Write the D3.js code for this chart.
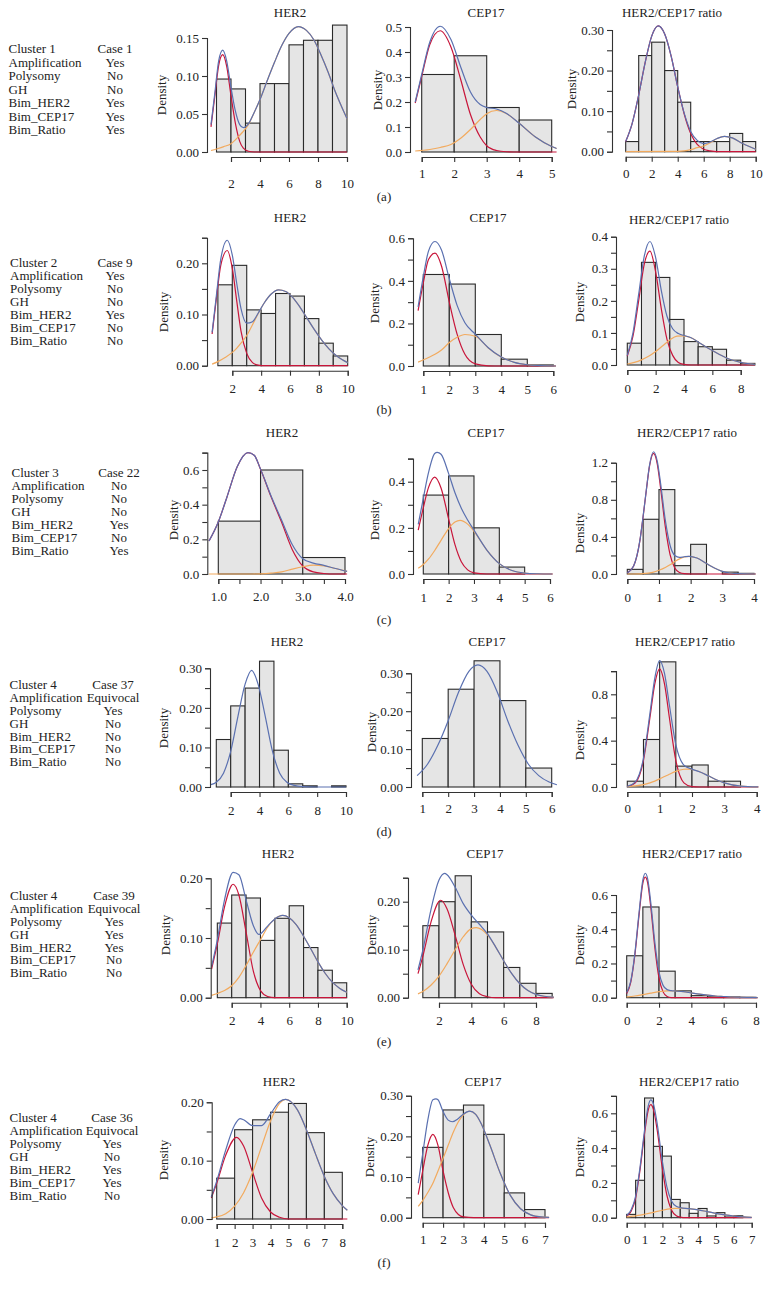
<!DOCTYPE html>
<html lang="en">
<head>
<meta charset="UTF-8">
<title>HER2 / CEP17 density histograms</title>
<script src="https://d3js.org/d3.v7.min.js"></script>
<style>
  body { margin: 0; background: #fff; }
  svg { display: block; font-family: "Liberation Serif", "DejaVu Serif", serif; }
</style>
</head>
<body>
<script>
// ---------- info tables ----------
const clusterNames = ["Cluster 1", "Cluster 2", "Cluster 3", "Cluster 4", "Cluster 4", "Cluster 4"];
const caseNames = ["Case 1", "Case 9", "Case 22", "Case 37", "Case 39", "Case 36"];
const infoNames = ["Amplification", "Polysomy", "GH", "Bim_HER2", "Bim_CEP17", "Bim_Ratio"];
const infoValues = [
  ["Yes", "No", "No", "Yes", "Yes", "Yes"],
  ["Yes", "No", "No", "Yes", "No", "No"],
  ["No", "No", "No", "Yes", "No", "Yes"],
  ["Equivocal", "Yes", "No", "No", "No", "No"],
  ["Equivocal", "Yes", "Yes", "Yes", "No", "No"],
  ["Equivocal", "Yes", "No", "Yes", "Yes", "No"]
];
const rowLetters = ["(a)", "(b)", "(c)", "(d)", "(e)", "(f)"];

// ---------- row (a) ----------
const densHer2A = [0.096, 0.083, 0.038, 0.090, 0.090, 0.141, 0.147, 0.147, 0.167];
const blueHer2A = [[0.62,0.036],[0.9,0.08],[1.15,0.12],[1.43,0.134],[1.7,0.12],[2.0,0.085],[2.3,0.054],[2.6,0.036],[2.85,0.032],[3.2,0.037],[3.6,0.052],[4.0,0.069],[4.5,0.094],[5.0,0.118],[5.5,0.14],[6.0,0.156],[6.64,0.165],[7.2,0.16],[7.7,0.148],[8.2,0.128],[8.7,0.105],[9.2,0.079],[9.6,0.061],[10.0,0.044]];
const redHer2A = [[0.62,0.033],[0.9,0.076],[1.15,0.114],[1.43,0.128],[1.7,0.113],[2.0,0.074],[2.3,0.038],[2.6,0.014],[2.85,0.005],[3.2,0.001],[3.6,0],[10.0,0]];
const orgHer2A = [[0.62,0.002],[1.0,0.004],[1.5,0.007],[2.0,0.011],[2.3,0.016],[2.6,0.022],[2.85,0.027],[3.2,0.036],[3.6,0.052],[4.0,0.069],[4.5,0.094],[5.0,0.118],[5.5,0.14],[6.0,0.156],[6.64,0.165],[7.2,0.16],[7.7,0.148],[8.2,0.128],[8.7,0.105],[9.2,0.079],[9.6,0.061],[10.0,0.044]];

const densCepA = [0.31, 0.385, 0.178, 0.128];
const blueCepA = [[0.8,0.2],[1.0,0.31],[1.25,0.44],[1.57,0.503],[1.9,0.45],[2.2,0.34],[2.5,0.24],[2.8,0.19],[3.0,0.178],[3.3,0.172],[3.6,0.155],[4.0,0.115],[4.5,0.06],[5.0,0.022],[5.15,0.014]];
const redCepA = [[0.8,0.196],[1.0,0.302],[1.25,0.43],[1.57,0.485],[1.9,0.42],[2.2,0.29],[2.5,0.15],[2.8,0.06],[3.0,0.025],[3.3,0.006],[3.6,0.001],[4.0,0],[5.15,0]];
const orgCepA = [[0.8,0.004],[1.25,0.01],[1.57,0.018],[1.9,0.03],[2.2,0.055],[2.5,0.09],[2.8,0.13],[3.0,0.153],[3.3,0.166],[3.6,0.154],[4.0,0.115],[4.5,0.06],[5.0,0.022],[5.15,0.014]];

const densRatA = [0.025, 0.237, 0.27, 0.2, 0.122, 0.025, 0.025, 0.025, 0.045, 0.025];
const blueRatA = [[0,0.025],[0.5,0.07],[1,0.14],[1.5,0.22],[2,0.285],[2.5,0.31],[3,0.29],[3.5,0.235],[4,0.16],[4.5,0.095],[5,0.05],[5.5,0.028],[6,0.02],[6.5,0.024],[7,0.032],[7.6,0.038],[8.2,0.034],[9,0.02],[10,0.006]];
const redRatA = [[0,0.025],[0.5,0.07],[1,0.14],[1.5,0.22],[2,0.285],[2.5,0.31],[3,0.29],[3.5,0.235],[4,0.16],[4.5,0.093],[5,0.045],[5.5,0.018],[6,0.006],[6.5,0.002],[7,0],[10,0]];
const orgRatA = [[0,0],[4,0.001],[4.5,0.002],[5,0.005],[5.5,0.01],[6,0.014],[6.5,0.022],[7,0.032],[7.6,0.038],[8.2,0.034],[9,0.02],[10,0.006]];

// ---------- row (b) ----------
const densHer2B = [0.158, 0.196, 0.109, 0.102, 0.141, 0.136, 0.092, 0.044, 0.019];
const blueHer2B = [[0.6,0.065],[0.9,0.138],[1.2,0.208],[1.65,0.245],[2.0,0.216],[2.3,0.162],[2.6,0.112],[3.0,0.083],[3.4,0.086],[3.8,0.103],[4.2,0.122],[4.7,0.14],[5.2,0.148],[5.7,0.145],[6.2,0.133],[6.7,0.114],[7.2,0.092],[7.7,0.07],[8.2,0.05],[8.7,0.033],[9.2,0.02],[9.6,0.012],[10,0.006]];
const redHer2B = [[0.6,0.062],[0.9,0.132],[1.2,0.196],[1.65,0.225],[2.0,0.19],[2.3,0.128],[2.6,0.068],[3.0,0.024],[3.4,0.006],[3.8,0.001],[4.2,0],[10,0]];
const orgHer2B = [[0.6,0.003],[1.0,0.008],[1.5,0.016],[2.0,0.026],[2.3,0.034],[2.6,0.044],[3.0,0.059],[3.4,0.08],[3.8,0.102],[4.2,0.122],[4.7,0.14],[5.2,0.148],[5.7,0.145],[6.2,0.133],[6.7,0.114],[7.2,0.092],[7.7,0.07],[8.2,0.05],[8.7,0.033],[9.2,0.02],[9.6,0.012],[10,0.006]];

const densCepB = [0.43, 0.385, 0.148, 0.032, 0.005];
const blueCepB = [[0.8,0.278],[1.0,0.42],[1.2,0.54],[1.45,0.585],[1.7,0.545],[2.0,0.41],[2.3,0.285],[2.6,0.203],[3.0,0.15],[3.5,0.086],[4.0,0.042],[4.5,0.017],[5.0,0.006],[5.5,0.002],[6.1,0]];
const redCepB = [[0.8,0.26],[1.0,0.39],[1.2,0.5],[1.45,0.53],[1.7,0.47],[2.0,0.3],[2.3,0.15],[2.6,0.055],[3.0,0.01],[3.5,0.001],[4.0,0],[6.1,0]];
const orgCepB = [[0.8,0.018],[1.2,0.04],[1.45,0.055],[1.7,0.075],[2.0,0.11],[2.3,0.135],[2.6,0.148],[3.0,0.14],[3.5,0.085],[4.0,0.042],[4.5,0.017],[5.0,0.006],[5.5,0.002],[6.1,0]];

const densRatB = [0.068, 0.32, 0.273, 0.142, 0.073, 0.057, 0.049, 0.015, 0.005];
const blueRatB = [[0,0.03],[0.4,0.1],[0.8,0.22],[1.2,0.34],[1.6,0.385],[2.0,0.335],[2.4,0.232],[2.8,0.152],[3.2,0.113],[3.6,0.098],[4.0,0.092],[4.5,0.085],[5.0,0.072],[5.5,0.058],[6.0,0.045],[6.5,0.033],[7.0,0.022],[7.5,0.014],[8.0,0.008],[8.5,0.004],[9.0,0.002]];
const redRatB = [[0,0.028],[0.4,0.09],[0.8,0.2],[1.2,0.315],[1.6,0.355],[2.0,0.29],[2.4,0.175],[2.8,0.08],[3.2,0.03],[3.6,0.008],[4.0,0.002],[4.5,0],[9.0,0]];
const orgRatB = [[0,0.003],[0.5,0.008],[1.0,0.016],[1.5,0.027],[2.0,0.042],[2.5,0.06],[3.0,0.078],[3.5,0.09],[3.9,0.091],[4.5,0.085],[5.0,0.072],[5.5,0.058],[6.0,0.045],[6.5,0.033],[7.0,0.022],[7.5,0.014],[8.0,0.008],[8.5,0.004],[9.0,0.002]];

// ---------- row (c) ----------
const densHer2C = [0.305, 0.6, 0.095];
const blueHer2C = [[0.78,0.19],[1.0,0.3],[1.2,0.44],[1.45,0.62],[1.7,0.7],[1.85,0.685],[2.0,0.605],[2.25,0.45],[2.5,0.31],[2.75,0.17],[3.0,0.088],[3.25,0.063],[3.5,0.05],[3.75,0.033],[4.05,0.015]];
const redHer2C = [[0.78,0.19],[1.0,0.3],[1.2,0.44],[1.45,0.62],[1.7,0.7],[1.85,0.685],[2.0,0.604],[2.25,0.445],[2.5,0.298],[2.75,0.142],[3.0,0.046],[3.25,0.012],[3.5,0.003],[3.75,0],[4.05,0]];
const orgHer2C = [[0.78,0],[1.8,0],[2.0,0.001],[2.25,0.005],[2.5,0.012],[2.75,0.028],[3.0,0.042],[3.25,0.051],[3.5,0.047],[3.75,0.033],[4.05,0.015]];

const densCepC = [0.342, 0.425, 0.2, 0.03];
const blueCepC = [[0.8,0.215],[1.0,0.328],[1.2,0.437],[1.45,0.522],[1.55,0.527],[1.7,0.519],[2.0,0.435],[2.25,0.352],[2.5,0.285],[2.75,0.234],[3.0,0.19],[3.5,0.105],[4.0,0.045],[4.5,0.015],[5.0,0.004],[5.5,0.001],[6.1,0]];
const redCepC = [[0.8,0.19],[1.0,0.287],[1.2,0.373],[1.45,0.42],[1.7,0.373],[2.0,0.238],[2.25,0.127],[2.5,0.053],[2.75,0.018],[3.0,0.005],[3.5,0],[6.1,0]];
const orgCepC = [[0.8,0.025],[1.0,0.041],[1.2,0.064],[1.45,0.102],[1.7,0.146],[2.0,0.197],[2.25,0.225],[2.45,0.232],[2.75,0.216],[3.0,0.185],[3.5,0.105],[4.0,0.045],[4.5,0.015],[5.0,0.004],[5.5,0.001],[6.1,0]];

const densRatC = [0.05, 0.59, 0.91, 0.09, 0.32, 0, 0.02, 0.007];
const blueRatC = [[0,0.012],[0.2,0.087],[0.4,0.367],[0.5,0.625],[0.6,0.905],[0.7,1.17],[0.83,1.318],[0.95,1.21],[1.05,0.98],[1.2,0.58],[1.35,0.31],[1.5,0.2],[1.65,0.179],[1.8,0.186],[1.95,0.19],[2.2,0.172],[2.5,0.113],[2.75,0.065],[3.0,0.029],[3.25,0.011],[3.5,0.003],[4.05,0]];
const redRatC = [[0,0.012],[0.2,0.086],[0.4,0.365],[0.5,0.62],[0.6,0.9],[0.7,1.16],[0.83,1.3],[0.95,1.18],[1.05,0.93],[1.2,0.51],[1.35,0.21],[1.5,0.065],[1.65,0.016],[1.8,0.003],[2.0,0],[4.05,0]];
const orgRatC = [[0,0],[0.5,0.005],[0.8,0.018],[1.0,0.04],[1.2,0.07],[1.35,0.1],[1.5,0.134],[1.65,0.163],[1.8,0.183],[1.95,0.19],[2.2,0.172],[2.5,0.113],[2.75,0.065],[3.0,0.029],[3.25,0.011],[3.5,0.003],[4.05,0]];

// ---------- row (d) ----------
const densHer2D = [0.12, 0.205, 0.25, 0.318, 0.093, 0.008, 0.003, 0, 0.003];
const blueHer2D = [[0.62,0.006],[1.0,0.012],[1.5,0.035],[2.0,0.09],[2.5,0.178],[3.0,0.26],[3.45,0.295],[3.9,0.26],[4.4,0.178],[4.9,0.09],[5.4,0.035],[5.9,0.012],[6.4,0.004],[7.0,0.001],[8.0,0],[10.0,0]];

const densCepD = [0.128, 0.258, 0.333, 0.228, 0.05];
const blueCepD = [[0.8,0.03],[1.2,0.06],[1.6,0.11],[2.0,0.175],[2.4,0.25],[2.8,0.305],[3.15,0.322],[3.5,0.305],[3.9,0.25],[4.3,0.175],[4.7,0.11],[5.1,0.06],[5.5,0.03],[5.9,0.013],[6.2,0.006]];

const densRatD = [0.05, 0.41, 1.08, 0.18, 0.19, 0.05, 0.05];
const blueRatD = [[0,0.006],[0.25,0.045],[0.5,0.25],[0.7,0.636],[0.85,0.94],[1.0,1.09],[1.15,0.98],[1.3,0.71],[1.5,0.365],[1.75,0.189],[2.0,0.154],[2.25,0.13],[2.5,0.097],[2.75,0.063],[3.0,0.036],[3.5,0.008],[4.05,0.001]];
const redRatD = [[0,0.003],[0.25,0.036],[0.5,0.23],[0.7,0.6],[0.85,0.89],[1.0,1.02],[1.15,0.89],[1.3,0.6],[1.5,0.23],[1.75,0.036],[2.0,0.003],[2.25,0],[4.05,0]];
const orgRatD = [[0,0.003],[0.25,0.009],[0.5,0.02],[0.7,0.036],[0.85,0.051],[1.0,0.07],[1.15,0.09],[1.3,0.11],[1.5,0.135],[1.75,0.153],[1.85,0.155],[2.0,0.151],[2.25,0.13],[2.5,0.097],[2.75,0.063],[3.0,0.036],[3.5,0.008],[4.05,0.001]];

// ---------- row (e) ----------
const densHer2E = [0.125, 0.172, 0.167, 0.096, 0.133, 0.154, 0.084, 0.046, 0.025];
const blueHer2E = [[0.6,0.052],[1.0,0.097],[1.5,0.164],[2.1,0.21],[2.5,0.206],[3.0,0.164],[3.5,0.121],[3.9,0.106],[4.5,0.12],[5.0,0.132],[5.55,0.138],[6.0,0.134],[6.5,0.122],[7.0,0.103],[7.5,0.082],[8.0,0.06],[8.5,0.041],[9.0,0.026],[9.5,0.016],[10.0,0.009]];
const redHer2E = [[0.6,0.048],[1.0,0.09],[1.5,0.152],[2.1,0.19],[2.5,0.172],[3.0,0.11],[3.5,0.045],[4.0,0.012],[4.5,0.002],[5.0,0],[10.0,0]];
const orgHer2E = [[0.6,0.004],[1.0,0.007],[1.5,0.012],[2.0,0.02],[2.5,0.034],[3.0,0.054],[3.5,0.076],[4.0,0.097],[4.5,0.118],[5.0,0.132],[5.55,0.138],[6.0,0.134],[6.5,0.122],[7.0,0.103],[7.5,0.082],[8.0,0.06],[8.5,0.041],[9.0,0.026],[9.5,0.016],[10.0,0.009]];

const densCepE = [0.15, 0.2, 0.254, 0.158, 0.137, 0.063, 0.03, 0.009];
const blueCepE = [[0.7,0.058],[1.0,0.099],[1.5,0.183],[2.0,0.245],[2.35,0.259],[2.5,0.256],[3.0,0.23],[3.5,0.196],[4.0,0.172],[4.5,0.153],[5.0,0.133],[5.5,0.106],[6.0,0.077],[6.5,0.05],[7.0,0.029],[7.5,0.015],[8.0,0.007],[8.5,0.003],[9.1,0.001]];
const redCepE = [[0.7,0.05],[1.0,0.086],[1.5,0.157],[2.1,0.203],[2.5,0.185],[3.0,0.13],[3.5,0.069],[4.0,0.028],[4.5,0.008],[5.0,0.002],[5.5,0],[9.1,0]];
const orgCepE = [[0.7,0.008],[1.0,0.013],[1.5,0.026],[2.0,0.045],[2.5,0.071],[3.0,0.1],[3.5,0.127],[4.0,0.144],[4.3,0.146],[5.0,0.131],[5.5,0.106],[6.0,0.077],[6.5,0.05],[7.0,0.029],[7.5,0.015],[8.0,0.007],[8.5,0.003],[9.1,0.001]];

const densRatE = [0.245, 0.53, 0.155, 0.04, 0.012, 0.005, 0.005, 0.002];
const blueRatE = [[0,0.03],[0.25,0.097],[0.5,0.255],[0.75,0.484],[1.0,0.688],[1.15,0.727],[1.3,0.693],[1.5,0.547],[1.75,0.316],[2.0,0.149],[2.25,0.072],[2.5,0.047],[2.75,0.041],[3.0,0.039],[3.5,0.035],[4.0,0.028],[4.5,0.021],[5.0,0.015],[5.5,0.01],[6.0,0.007],[6.5,0.004],[7.0,0.003],[7.5,0.002],[8.1,0.001]];
const redRatE = [[0,0.025],[0.25,0.09],[0.5,0.245],[0.75,0.47],[1.0,0.67],[1.15,0.705],[1.3,0.67],[1.5,0.52],[1.75,0.285],[2.0,0.114],[2.25,0.034],[2.5,0.007],[2.75,0.001],[3.0,0],[8.1,0]];
const orgRatE = [[0,0.005],[0.5,0.01],[1.0,0.018],[1.5,0.027],[2.0,0.035],[2.5,0.04],[3.0,0.039],[3.5,0.035],[4.0,0.028],[4.5,0.021],[5.0,0.015],[5.5,0.01],[6.0,0.007],[6.5,0.004],[7.0,0.003],[7.5,0.002],[8.1,0.001]];

// ---------- row (f) ----------
const densHer2F = [0.07, 0.153, 0.17, 0.183, 0.198, 0.148, 0.08];
const blueHer2F = [[0.7,0.038],[1.0,0.065],[1.5,0.118],[2.0,0.161],[2.3,0.172],[2.5,0.17],[3.0,0.16],[3.5,0.16],[4.0,0.18],[4.5,0.201],[4.85,0.205],[5.5,0.187],[6.0,0.153],[6.5,0.112],[7.0,0.073],[7.5,0.043],[8.0,0.023],[8.28,0.015]];
const redHer2F = [[0.7,0.036],[1.0,0.061],[1.5,0.109],[2.1,0.14],[2.5,0.125],[3.0,0.08],[3.5,0.036],[4.0,0.012],[4.5,0.003],[5.0,0],[8.28,0]];
const orgHer2F = [[0.7,0.002],[1.0,0.0035],[1.5,0.009],[2.0,0.022],[2.5,0.045],[3.0,0.08],[3.5,0.124],[4.0,0.168],[4.5,0.198],[4.85,0.205],[5.5,0.187],[6.0,0.153],[6.5,0.112],[7.0,0.073],[7.5,0.043],[8.0,0.023],[8.28,0.015]];

const densCepF = [0.173, 0.265, 0.277, 0.205, 0.061, 0.02];
const blueCepF = [[0.78,0.085],[1.0,0.157],[1.25,0.24],[1.5,0.29],[1.65,0.292],[1.75,0.29],[2.0,0.261],[2.25,0.24],[2.45,0.236],[2.75,0.244],[3.0,0.255],[3.3,0.262],[3.6,0.254],[3.9,0.228],[4.3,0.178],[4.8,0.11],[5.3,0.055],[5.8,0.022],[6.3,0.007],[6.8,0.002],[7.2,0.001]];
const redCepF = [[0.78,0.057],[1.0,0.115],[1.25,0.178],[1.5,0.205],[1.75,0.178],[2.0,0.115],[2.25,0.062],[2.5,0.025],[2.75,0.008],[3.0,0.002],[3.5,0],[7.2,0]];
const orgCepF = [[0.78,0.028],[1.0,0.042],[1.25,0.062],[1.5,0.085],[1.75,0.115],[2.0,0.146],[2.25,0.178],[2.5,0.21],[2.75,0.236],[3.0,0.253],[3.3,0.262],[3.6,0.254],[3.9,0.228],[4.3,0.178],[4.8,0.11],[5.3,0.055],[5.8,0.022],[6.3,0.007],[6.8,0.002],[7.2,0.001]];

const densRatF = [0.019, 0.215, 0.688, 0.41, 0.354, 0.105, 0.086, 0.025, 0.053, 0.01, 0.029, 0.004, 0.011];
const blueRatF = [[0,0.013],[0.25,0.045],[0.5,0.124],[0.75,0.293],[1.0,0.504],[1.2,0.64],[1.35,0.677],[1.5,0.652],[1.7,0.545],[2.0,0.322],[2.25,0.177],[2.5,0.098],[2.8,0.064],[3.0,0.058],[3.5,0.052],[4.0,0.045],[4.5,0.035],[5.0,0.025],[5.5,0.016],[6.0,0.0095],[6.5,0.005],[7.0,0.0024]];
const redRatF = [[0,0.008],[0.25,0.037],[0.5,0.113],[0.75,0.278],[1.0,0.484],[1.2,0.616],[1.35,0.65],[1.5,0.621],[1.7,0.509],[2.0,0.279],[2.25,0.129],[2.5,0.046],[2.8,0.01],[3.0,0.003],[3.3,0],[7.0,0]];
const orgRatF = [[0,0.005],[0.25,0.008],[0.5,0.011],[0.75,0.015],[1.0,0.02],[1.5,0.031],[2.0,0.043],[2.5,0.052],[3.0,0.055],[3.5,0.052],[4.0,0.045],[4.5,0.035],[5.0,0.025],[5.5,0.016],[6.0,0.0095],[6.5,0.005],[7.0,0.0024]];

// ---------- panel table (built from the arrays above) ----------
const T1 = "HER2", T2 = "CEP17", T3 = "HER2/CEP17 ratio";
const panels = [
  {title:T1, start:1, bw:1,   dens:densHer2A, blue:blueHer2A, red:redHer2A, org:orgHer2A, xt:[2,4,6,8,10], xl:[2,4,6,8,10], xf:"d", yt:[0,0.05,0.1,0.15], yl:[0,0.05,0.1,0.15], yf:".2f"},
  {title:T2, start:1, bw:1,   dens:densCepA,  blue:blueCepA,  red:redCepA,  org:orgCepA,  xt:[1,2,3,4,5], xl:[1,2,3,4,5], xf:"d", yt:[0,0.1,0.2,0.3,0.4,0.5], yl:[0,0.1,0.2,0.3,0.4,0.5], yf:".1f"},
  {title:T3, start:0, bw:1,   dens:densRatA,  blue:blueRatA,  red:redRatA,  org:orgRatA,  xt:[0,2,4,6,8,10], xl:[0,2,4,6,8,10], xf:"d", yt:[0,0.05,0.1,0.15,0.2,0.25,0.3], yl:[0,0.1,0.2,0.3], yf:".2f"},

  {title:T1, start:1, bw:1,   dens:densHer2B, blue:blueHer2B, red:redHer2B, org:orgHer2B, xt:[2,4,6,8,10], xl:[2,4,6,8,10], xf:"d", yt:[0,0.05,0.1,0.15,0.2,0.25], yl:[0,0.1,0.2], yf:".2f"},
  {title:T2, start:1, bw:1,   dens:densCepB,  blue:blueCepB,  red:redCepB,  org:orgCepB,  xt:[1,2,3,4,5,6], xl:[1,2,3,4,5,6], xf:"d", yt:[0,0.1,0.2,0.3,0.4,0.5,0.6], yl:[0,0.2,0.4,0.6], yf:".1f"},
  {title:T3, start:0, bw:1,   dens:densRatB,  blue:blueRatB,  red:redRatB,  org:orgRatB,  xt:[0,2,4,6,8], xl:[0,2,4,6,8], xf:"d", yt:[0,0.05,0.1,0.15,0.2,0.25,0.3,0.35,0.4], yl:[0,0.1,0.2,0.3,0.4], yf:".1f"},

  {title:T1, start:1, bw:1,   dens:densHer2C, blue:blueHer2C, red:redHer2C, org:orgHer2C, xt:[1,1.5,2,2.5,3,3.5,4], xl:[1,2,3,4], xf:".1f", yt:[0,0.1,0.2,0.3,0.4,0.5,0.6,0.7], yl:[0,0.2,0.4,0.6], yf:".1f"},
  {title:T2, start:1, bw:1,   dens:densCepC,  blue:blueCepC,  red:redCepC,  org:orgCepC,  xt:[1,2,3,4,5,6], xl:[1,2,3,4,5,6], xf:"d", yt:[0,0.1,0.2,0.3,0.4,0.5], yl:[0,0.2,0.4], yf:".1f"},
  {title:T3, start:0, bw:0.5, dens:densRatC,  blue:blueRatC,  red:redRatC,  org:orgRatC,  xt:[0,1,2,3,4], xl:[0,1,2,3,4], xf:"d", yt:[0,0.2,0.4,0.6,0.8,1.0,1.2], yl:[0,0.4,0.8,1.2], yf:".1f"},

  {title:T1, start:1, bw:1,   dens:densHer2D, blue:blueHer2D, red:null, org:null, xt:[2,4,6,8,10], xl:[2,4,6,8,10], xf:"d", yt:[0,0.05,0.1,0.15,0.2,0.25,0.3], yl:[0,0.1,0.2,0.3], yf:".2f"},
  {title:T2, start:1, bw:1,   dens:densCepD,  blue:blueCepD,  red:null, org:null, xt:[1,2,3,4,5,6], xl:[1,2,3,4,5,6], xf:"d", yt:[0,0.05,0.1,0.15,0.2,0.25,0.3], yl:[0,0.1,0.2,0.3], yf:".2f"},
  {title:T3, start:0, bw:0.5, dens:densRatD,  blue:blueRatD,  red:redRatD,  org:orgRatD,  xt:[0,1,2,3,4], xl:[0,1,2,3,4], xf:"d", yt:[0,0.2,0.4,0.6,0.8,1.0], yl:[0,0.4,0.8], yf:".1f"},

  {title:T1, start:1, bw:1,   dens:densHer2E, blue:blueHer2E, red:redHer2E, org:orgHer2E, xt:[2,4,6,8,10], xl:[2,4,6,8,10], xf:"d", yt:[0,0.05,0.1,0.15,0.2], yl:[0,0.1,0.2], yf:".2f"},
  {title:T2, start:1, bw:1,   dens:densCepE,  blue:blueCepE,  red:redCepE,  org:orgCepE,  xt:[2,4,6,8], xl:[2,4,6,8], xf:"d", yt:[0,0.05,0.1,0.15,0.2,0.25], yl:[0,0.1,0.2], yf:".2f"},
  {title:T3, start:0, bw:1,   dens:densRatE,  blue:blueRatE,  red:redRatE,  org:orgRatE,  xt:[0,2,4,6,8], xl:[0,2,4,6,8], xf:"d", yt:[0,0.1,0.2,0.3,0.4,0.5,0.6], yl:[0,0.2,0.4,0.6], yf:".1f"},

  {title:T1, start:1, bw:1,   dens:densHer2F, blue:blueHer2F, red:redHer2F, org:orgHer2F, xt:[1,2,3,4,5,6,7,8], xl:[1,2,3,4,5,6,7,8], xf:"d", yt:[0,0.05,0.1,0.15,0.2], yl:[0,0.1,0.2], yf:".2f"},
  {title:T2, start:1, bw:1,   dens:densCepF,  blue:blueCepF,  red:redCepF,  org:orgCepF,  xt:[1,2,3,4,5,6,7], xl:[1,2,3,4,5,6,7], xf:"d", yt:[0,0.05,0.1,0.15,0.2,0.25,0.3], yl:[0,0.1,0.2,0.3], yf:".2f"},
  {title:T3, start:0, bw:0.5, dens:densRatF,  blue:blueRatF,  red:redRatF,  org:orgRatF,  xt:[0,1,2,3,4,5,6,7], xl:[0,1,2,3,4,5,6,7], xf:"d", yt:[0,0.1,0.2,0.3,0.4,0.5,0.6,0.7], yl:[0,0.2,0.4,0.6], yf:".1f"}
];

// ---------- layout (pixels) ----------
var w = 769, h = 1289;
const layout = [
  {x0v:2,x0p:231,  x1v:10,x1p:347,   y0p:152,   yRv:0.15,yRp:38,    axX:207,   lbl:183,  tx:290,ty:13,   dx:162,dy:95},
  {x0v:1,x0p:421.7,x1v:5, x1p:551.7, y0p:152,   yRv:0.5, yRp:27,    axX:410,   lbl:173,  tx:486,ty:13,   dx:378,dy:90},
  {x0v:0,x0p:625.7,x1v:10,x1p:755.7, y0p:151.7, yRv:0.3, yRp:30,    axX:612,   lbl:173,  tx:672,ty:13,   dx:572,dy:89},

  {x0v:2,x0p:232.3,x1v:10,x1p:347.7, y0p:365.7, yRv:0.2, yRp:263.3, axX:207,   lbl:388,  tx:290,ty:218,  dx:164,dy:312},
  {x0v:1,x0p:423.3,x1v:6, x1p:553.3, y0p:366,   yRv:0.6, yRp:238.3, axX:413,   lbl:389,  tx:488,ty:218,  dx:375,dy:303},
  {x0v:0,x0p:627.3,x1v:8, x1p:740.7, y0p:365,   yRv:0.4, yRp:236.7, axX:616,   lbl:388,  tx:679,ty:220,  dx:580,dy:302},

  {x0v:1,x0p:218.3,x1v:4, x1p:345,   y0p:574,   yRv:0.6, yRp:470,   axX:207.3, lbl:596,  tx:282,ty:433,  dx:174,dy:520},
  {x0v:1,x0p:423.3,x1v:6, x1p:550,   y0p:574,   yRv:0.4, yRp:481.7, axX:413,   lbl:597,  tx:486,ty:433,  dx:375,dy:520},
  {x0v:0,x0p:627.3,x1v:4, x1p:754,   y0p:574,   yRv:1.2, yRp:462.7, axX:616,   lbl:597,  tx:687,ty:433,  dx:580,dy:533},

  {x0v:2,x0p:230.7,x1v:10,x1p:346,   y0p:787,   yRv:0.3, yRp:668.3, axX:210,   lbl:810,  tx:287,ty:642,  dx:164,dy:728},
  {x0v:1,x0p:422.3,x1v:6, x1p:551.7, y0p:787,   yRv:0.3, yRp:673.3, axX:411,   lbl:808,  tx:487,ty:642,  dx:372,dy:732},
  {x0v:0,x0p:627.3,x1v:4, x1p:756.7, y0p:787,   yRv:0.8, yRp:694.3, axX:616,   lbl:808,  tx:685,ty:642,  dx:580,dy:740},

  {x0v:2,x0p:231.7,x1v:10,x1p:346.7, y0p:997.7, yRv:0.2, yRp:878.3, axX:210.7, lbl:1020, tx:278,ty:854,  dx:166,dy:935},
  {x0v:2,x0p:439,  x1v:8, x1p:536,   y0p:997.7, yRv:0.2, yRp:901.7, axX:408,   lbl:1020, tx:485,ty:854,  dx:372,dy:935},
  {x0v:0,x0p:626.7,x1v:8, x1p:756,   y0p:997.7, yRv:0.6, yRp:895,   axX:616,   lbl:1020, tx:692,ty:854,  dx:580,dy:945},

  {x0v:1,x0p:216.7,x1v:8, x1p:342.3, y0p:1219,  yRv:0.2, yRp:1102.3,axX:211.7, lbl:1242, tx:279,ty:1082, dx:164,dy:1160},
  {x0v:1,x0p:422.7,x1v:7, x1p:545,   y0p:1217.7,yRv:0.3, yRp:1095.7,axX:411,   lbl:1239, tx:483,ty:1082, dx:370,dy:1157},
  {x0v:0,x0p:626.7,x1v:7, x1p:751.7, y0p:1217.7,yRv:0.6, yRp:1113.3,axX:616,   lbl:1239, tx:689,ty:1082, dx:580,dy:1157}
];
const infoTop = [49, 263, 473, 685, 896, 1118];
const infoStep = [13.45, 12.9, 12.9, 12.8, 12.8, 13];
const infoLeft = [8.5, 10, 11.5, 9.5, 10, 9.5];
const infoCol = [115, 115, 119, 113, 114, 112];
const letterY = [197, 410, 620, 832, 1042, 1263];

const FS = 13;
const INK = "#222";
const colBlue = "#5a70b0", colRed = "#c8153a", colOrg = "#f2aa5e";

var svg = d3.select('body').append('svg')
  .attr('width', w).attr('height', h)
  .style('background', '#fff');

// ---------- info text ----------
rowLetters.forEach((lt, r) => {
  var lines = [[clusterNames[r], caseNames[r]]].concat(infoNames.map((n, j) => [n, infoValues[r][j]]));
  var g = svg.append('g').attr('font-size', FS).attr('fill', INK);
  lines.forEach((ln, j) => {
    var yy = infoTop[r] + j * infoStep[r] + 4.3;
    g.append('text').attr('x', infoLeft[r]).attr('y', yy).text(ln[0]);
    g.append('text').attr('x', infoCol[r]).attr('y', yy).attr('text-anchor', 'middle').text(ln[1]);
  });
  svg.append('text').attr('x', 384).attr('y', letterY[r] + 4.3)
    .attr('text-anchor', 'middle').attr('font-size', FS).attr('fill', INK).text(lt);
});

// ---------- panels ----------
var line = (xs, ys) => d3.line().x(d => xs(d[0])).y(d => ys(d[1])).curve(d3.curveMonotoneX);

panels.forEach((p, i) => {
  var L = layout[i];
  var xScale = d3.scaleLinear().domain([L.x0v, L.x1v]).range([L.x0p, L.x1p]);
  var yScale = d3.scaleLinear().domain([0, L.yRv]).range([L.y0p, L.yRp]);
  var g = svg.append('g');

  // histogram bars
  var bins = p.dens.map((d, j) => ({a: p.start + j * p.bw, b: p.start + (j + 1) * p.bw, d: d}));
  g.selectAll('rect.bar')
    .data(bins)
    .enter()
    .append('rect')
    .attr('class', 'bar')
    .attr('x', d => xScale(d.a))
    .attr('width', d => xScale(d.b) - xScale(d.a))
    .attr('y', d => yScale(d.d))
    .attr('height', d => yScale(0) - yScale(d.d))
    .attr('fill', '#e5e5e5')
    .attr('stroke', '#2a2a2a')
    .attr('stroke-width', 1.1);

  // density curves
  var mk = line(xScale, yScale);
  [[p.red, colRed], [p.org, colOrg], [p.blue, colBlue]].forEach(c => {
    if (!c[0]) return;
    g.append('path').datum(c[0])
      .attr('d', mk)
      .attr('fill', 'none')
      .attr('stroke', c[1])
      .attr('stroke-width', 1.2);
  });

  // y axis (from first to last tick, R style)
  var yt0 = p.yt[0], yt1 = p.yt[p.yt.length - 1];
  var yAx = d3.scaleLinear().domain([yt0, yt1]).range([yScale(yt0), yScale(yt1)]);
  var yFmt = d3.format(p.yf);
  var gy = g.append('g')
    .attr('transform', 'translate(' + L.axX + ',0)')
    .call(d3.axisLeft(yAx).tickValues(p.yt).tickSizeOuter(0).tickSize(5).tickPadding(3)
      .tickFormat(v => p.yl.some(u => Math.abs(u - v) < 1e-9) ? yFmt(v) : ''));

  // x axis
  var xt0 = p.xt[0], xt1 = p.xt[p.xt.length - 1];
  var xAx = d3.scaleLinear().domain([xt0, xt1]).range([xScale(xt0), xScale(xt1)]);
  var xFmt = d3.format(p.xf);
  var axY = L.y0p + 5;
  var gx = g.append('g')
    .attr('transform', 'translate(0,' + axY + ')')
    .call(d3.axisBottom(xAx).tickValues(p.xt).tickSizeOuter(0).tickSize(5)
      .tickPadding(L.lbl - axY - 5 - 4.7)
      .tickFormat(v => p.xl.some(u => Math.abs(u - v) < 1e-9) ? xFmt(v) : ''));

  [gy, gx].forEach(a => {
    a.attr('font-size', FS).attr('font-family', null).attr('color', '#333');
    a.selectAll('path, line').attr('stroke-width', 1.1);
    a.selectAll('text').attr('fill', INK);
  });

  // titles
  g.append('text').attr('x', L.tx).attr('y', L.ty + 4.3)
    .attr('text-anchor', 'middle').attr('font-size', FS).attr('fill', INK).text(p.title);
  g.append('text')
    .attr('transform', 'translate(' + (L.dx + 4.3) + ',' + L.dy + ') rotate(-90)')
    .attr('text-anchor', 'middle').attr('font-size', FS).attr('fill', INK).text('Density');
});
</script>
</body>
</html>
